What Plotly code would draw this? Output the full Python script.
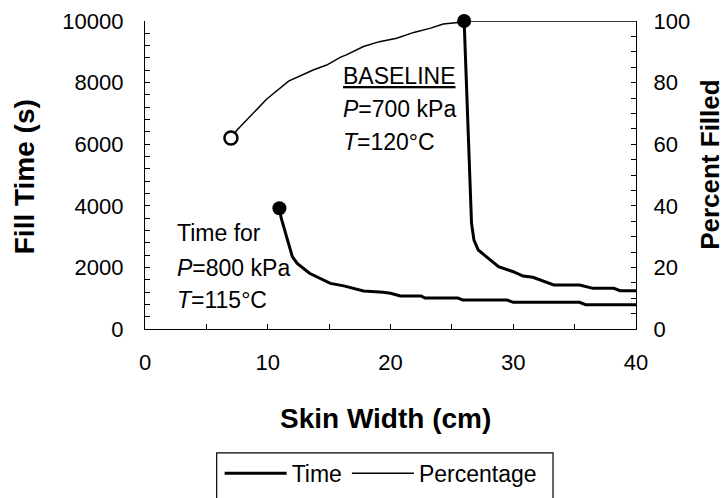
import plotly.graph_objects as go

# Skin width (cm) vs. percentage of the part filled (baseline process)
pct_width = [7.0, 7.5, 9.9, 11.7, 13.7, 14.8, 15.9, 16.4, 17.8, 19.1, 20.5,
             21.9, 23.2, 24.3, 25.7, 26.0, 40.0]
pct_filled = [62, 64.6, 74.6, 80.5, 84.1, 85.7, 88.2, 89.0, 91.7, 93.3, 94.4,
              96.3, 97.6, 99.0, 99.6, 100, 100]

# Fill time (s), baseline: P=700 kPa, T=120 C
base_width = [26.0, 26.4, 26.5, 26.6, 26.8, 27.15, 27.8, 28.8, 30.0, 30.8, 31.6,
              32.5, 33.3, 35.4, 36.5, 38.2, 38.7, 40.0]
base_time = [10000, 5500, 4200, 3430, 2890, 2565, 2350, 2020, 1860, 1720, 1680,
             1560, 1430, 1430, 1320, 1320, 1245, 1245]

# Fill time (s) for P=800 kPa, T=115 C
alt_width = [10.95, 11.1, 12.0, 12.4, 13.4, 15.1, 16.2, 17.8, 19.4, 20.0, 20.8,
             22.5, 22.8, 25.5, 25.9, 29.5, 30.0, 35.4, 35.9, 40.0]
alt_time = [3920, 3600, 2350, 2130, 1810, 1480, 1400, 1235, 1190, 1160, 1070,
            1070, 1005, 1005, 940, 940, 865, 865, 790, 790]

x_ticks = [0, 10, 20, 30, 40]
time_ticks = [0, 2000, 4000, 6000, 8000, 10000]
time_labels = ["0", "2000", "4000", "6000", "8000", "10000"]
pct_ticks = [0, 20, 40, 60, 80, 100]

FONT = "Liberation Sans, Arial, Helvetica, sans-serif"
INK = "black"

fig = go.Figure()

fig.add_trace(go.Scatter(
    x=base_width, y=base_time, mode="lines", name="Time",
    legendgroup="time", line=dict(color=INK, width=3), yaxis="y",
    cliponaxis=False))
fig.add_trace(go.Scatter(
    x=alt_width, y=alt_time, mode="lines", name="Time",
    legendgroup="time", showlegend=False,
    line=dict(color=INK, width=3), yaxis="y", cliponaxis=False))
fig.add_trace(go.Scatter(
    x=pct_width, y=pct_filled, mode="lines", name="Percentage",
    line=dict(color=INK, width=1.5), yaxis="y2", cliponaxis=False))

# start markers of each curve
fig.add_trace(go.Scatter(
    x=[base_width[0], alt_width[0]], y=[base_time[0], alt_time[0]],
    mode="markers", showlegend=False, yaxis="y", cliponaxis=False,
    marker=dict(color=INK, size=14, line=dict(width=0))))
fig.add_trace(go.Scatter(
    x=[pct_width[0]], y=[pct_filled[0]], mode="markers", showlegend=False,
    yaxis="y2", cliponaxis=False,
    marker=dict(color="white", size=13, line=dict(color=INK, width=2.5))))

tick_font = dict(family=FONT, size=22, color=INK)
fig.update_layout(
    width=726, height=498, autosize=False,
    margin=dict(l=145, r=90, t=21, b=169, autoexpand=False),
    paper_bgcolor="white", plot_bgcolor="white",
    font=dict(family=FONT, color=INK),
    xaxis=dict(range=[0, 40], tickvals=x_ticks, ticks="inside", ticklen=5,
               tickcolor=INK, showline=True, linecolor=INK, linewidth=1.2,
               showgrid=False, zeroline=False, tickfont=tick_font,
               ticklabelstandoff=13,
               minor=dict(dtick=5, ticks="inside", ticklen=5, tickcolor=INK)),
    yaxis=dict(range=[0, 10000], tickvals=time_ticks, ticktext=time_labels,
               ticks="inside", ticklen=5,
               tickcolor=INK, showline=True, linecolor=INK, linewidth=1.2,
               showgrid=False, zeroline=False, tickfont=tick_font,
               ticklabelstandoff=16,
               minor=dict(dtick=400, ticks="inside", ticklen=5, tickcolor=INK)),
    yaxis2=dict(range=[0, 100], tickvals=pct_ticks, overlaying="y", side="right",
                ticks="inside", ticklen=5, tickcolor=INK, showline=True,
                linecolor=INK, linewidth=1.2, showgrid=False, zeroline=False,
                tickfont=tick_font, ticklabelstandoff=12,
                minor=dict(dtick=5, ticks="inside", ticklen=5, tickcolor=INK)),
    legend=dict(orientation="h", x=0.152, y=-0.399, xanchor="left",
                yanchor="top", bgcolor="rgba(0,0,0,0)", borderwidth=0,
                itemwidth=62, font=dict(family=FONT, size=23, color=INK)),
    showlegend=True,
)

# legend frame (runs off the bottom edge)
fig.add_shape(type="rect", xref="paper", yref="paper",
              x0=0.146, x1=0.831, y0=-0.62, y1=-0.402,
              line=dict(color=INK, width=1.2), fillcolor="rgba(0,0,0,0)")

# axis titles
fig.add_annotation(text="<b>Skin Width (cm)</b>", xref="paper", yref="paper",
                   x=0.49, y=-0.29, showarrow=False,
                   font=dict(family=FONT, size=28, color=INK),
                   xanchor="center", yanchor="middle")
fig.add_annotation(text="<b>Fill Time (s)</b>", xref="paper", yref="paper",
                   x=-0.245, y=0.495, showarrow=False,
                   font=dict(family=FONT, size=28, color=INK),
                   textangle=-90, xanchor="center", yanchor="middle")
fig.add_annotation(text="<b>Percent Filled</b>", xref="paper", yref="paper",
                   x=1.152, y=0.535, showarrow=False,
                   font=dict(family=FONT, size=26, color=INK),
                   textangle=-90, xanchor="center", yanchor="middle")

# in-plot labels
note_font = dict(family=FONT, size=23, color=INK)
notes = [
    ("<u>BASELINE</u>", 16.0, 8221),
    ("<i>P</i>=700 kPa", 16.0, 7143),
    ("<i>T</i>=120°C", 16.0, 6081),
    ("Time for", 2.45, 3107),
    ("<i>P</i>=800 kPa", 2.45, 1981),
    ("<i>T</i>=115°C", 2.45, 942),
]
for txt, nx, ny in notes:
    fig.add_annotation(text=txt, x=nx, y=ny, xref="x", yref="y",
                       showarrow=False, xanchor="left", yanchor="middle",
                       font=note_font)

fig.write_html("out.html")
